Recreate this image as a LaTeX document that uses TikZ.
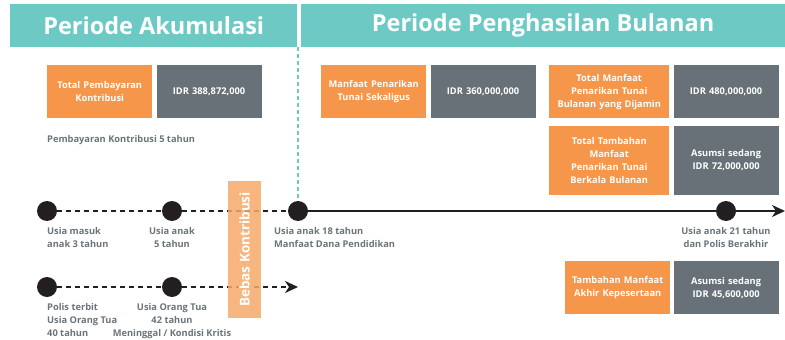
\documentclass[tikz,border=0pt]{standalone}
\usepackage{fontspec}
\setmainfont{Open Sans}
\usetikzlibrary{positioning,arrows.meta,calc}
\definecolor{hdteal}{HTML}{6DC9C4}
\definecolor{boxorange}{HTML}{F6964A}
\definecolor{boxgrey}{HTML}{677177}
\definecolor{txtgrey}{HTML}{6C747A}
\definecolor{dotblack}{HTML}{231F20}
\definecolor{freeorange}{HTML}{F6A96A}
\tikzstyle{hbox}=[rectangle, fill=hdteal, text=white, minimum height=43pt,
                  inner sep=0pt, font=\fontsize{23.5}{28}\selectfont\bfseries]
\tikzstyle{obox}=[rectangle, fill=boxorange, text=white, minimum width=105pt,
 minimum height=53pt, inner sep=0pt, text width=102pt, align=center,
 font=\fontsize{9.3}{13}\selectfont\bfseries]
\tikzstyle{gbox}=[obox, fill=boxgrey]
\tikzstyle{fbox}=[rectangle, fill=freeorange, fill opacity=0.85, text opacity=1,
 text=white, minimum width=137pt, minimum height=33pt, inner sep=0pt,
 font=\fontsize{13.5}{15}\selectfont\bfseries]
\tikzstyle{tdot}=[circle, fill=dotblack, minimum size=20pt, inner sep=0pt]
\tikzstyle{lbl}=[inner sep=0pt, text=txtgrey, font=\fontsize{9.3}{13}\selectfont\bfseries]
\tikzstyle{dline}=[dotblack, line width=2pt, dash pattern=on 5pt off 4pt]
\tikzstyle{sline}=[dotblack, line width=2pt]
\tikzstyle{tline}=[hdteal, line width=2pt, dash pattern=on 4pt off 3pt]

\begin{document}
\begin{tikzpicture}[x=1pt, y=-1pt, node distance=0pt]
\useasboundingbox (0,0) rectangle (785,340);

% headers
\node (HAKU) [hbox, minimum width=287pt, anchor=north west] at (10,4) {Periode Akumulasi};
\node (HPEN) [hbox, minimum width=485pt, right=3pt of HAKU] {Periode Penghasilan Bulanan};

% boxes
\node (TPK) [obox, anchor=north west] at (47,65) {Total Pembayaran\\Kontribusi};
\node (TPKV) [gbox, right=4pt of TPK] {IDR 388,872,000};
\node (PKT) [lbl, below=17pt of TPK.south west, anchor=north west] {Pembayaran Kontribusi 5 tahun};

\node (MPT) [obox, anchor=north west] at (321,65) {Manfaat Penarikan\\Tunai Sekaligus};
\node (MPTV) [gbox, right=4pt of MPT] {IDR 360,000,000};

\node (TMB) [obox, minimum width=120pt, text width=116pt, anchor=north west] at (549,65) {Total Manfaat\\Penarikan Tunai\\Bulanan yang Dijamin};
\node (TMBV) [gbox, right=4pt of TMB] {IDR 480,000,000};
\node (TTM) [obox, minimum width=120pt, text width=116pt, minimum height=69pt, below=7pt of TMB] {Total Tambahan\\Manfaat\\Penarikan Tunai\\Berkala Bulanan};
\node (TTMV) [gbox, minimum height=69pt, right=4pt of TTM] {Asumsi sedang\\IDR 72,000,000};

\node (TMA) [obox, anchor=north west] at (565,261) {Tambahan Manfaat\\Akhir Kepesertaan};
\node (TMAV) [gbox, right=3pt of TMA] {Asumsi sedang\\IDR 45,600,000};

% timeline anak
\node (D1) [tdot] at (47,211) {};
\node (D2) [tdot] at (172,211) {};
\node (D3) [tdot] at (298,211) {};
\node (D4) [tdot] at (726,211) {};
\coordinate (END1) at (785,211);
% timeline orang tua
\node (D5) [tdot] at (47,287) {};
\node (D6) [tdot] at (172,287) {};
\coordinate (END2) at (298,287);

\draw[tline] (D3 |- HAKU.south) -- (D3.north);
\draw[dline] (D1) -- (D2) -- (D3);
\draw[sline, -{Stealth[length=13pt, width=12pt, inset=4pt]}] (D3) -- (END1);
\draw[dline, -{Stealth[length=13pt, width=12pt, inset=4pt]}] (D5) -- (D6) -- (END2);

\node (BEBAS) [fbox, rotate=90] at (244.5,249.5) {Bebas Kontribusi};

% labels
\node (L1) [lbl, align=left, below=6pt of D1, anchor=north west] {Usia masuk\\anak 3 tahun};
\node (L2) [lbl, align=center, below=6pt of D2] {Usia anak\\5 tahun};
\node (L3) [lbl, align=left, below=6pt of D3, anchor=north west, xshift=-24pt] {Usia anak 18 tahun\\Manfaat Dana Pendidikan};
\node (L4) [lbl, align=center, below=6pt of D4] {Usia anak 21 tahun\\dan Polis Berakhir};
\node (L5) [lbl, align=left, below=6pt of D5, anchor=north west] {Polis terbit\\Usia Orang Tua\\40 tahun};
\node (L6) [lbl, align=center, below=6pt of D6] {Usia Orang Tua\\42 tahun\\Meninggal / Kondisi Kritis};

\end{tikzpicture}
\end{document}
